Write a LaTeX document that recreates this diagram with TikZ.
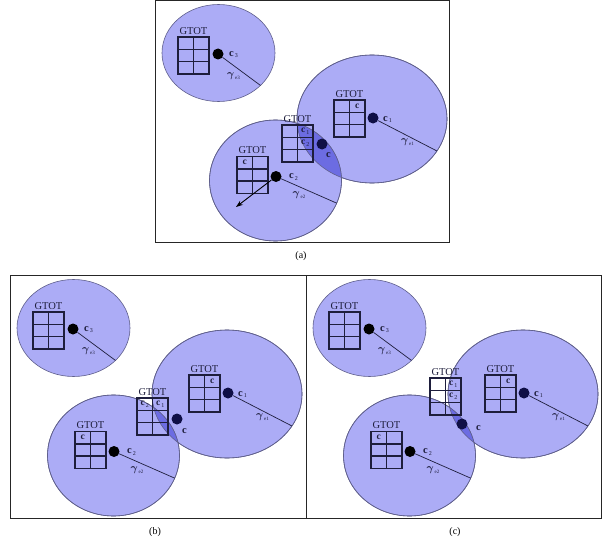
\documentclass[tikz,border=0pt]{standalone}
\usepackage{amsmath}
\usepackage{fontspec}
\setmainfont{Liberation Serif}
\usetikzlibrary{arrows.meta,calc}
\definecolor{cfill}{RGB}{172,172,246}
\definecolor{clens}{RGB}{108,108,226}
\definecolor{cedge}{RGB}{95,95,140}
\definecolor{cgrid}{RGB}{30,30,60}
\definecolor{cnavy}{RGB}{15,15,70}
\tikzset{
  blob/.style={fill=cfill, draw=cedge, line width=0.6pt},
  cellbox/.style={draw=cgrid, line width=1.4pt, minimum width=15.5pt, minimum height=12.3pt, inner sep=0pt, outer sep=0pt},
  gtot/.style={font=\fontsize{10.5}{10.5}\selectfont, inner sep=0pt, text=cgrid},
  cdot/.style={circle, fill=black, minimum size=11pt, inner sep=0pt},
  ndot/.style={circle, fill=cnavy, minimum size=11pt, inner sep=0pt},
  clab/.style={font=\fontsize{10.5}{10.5}\selectfont, inner sep=0pt, anchor=west, text=cgrid},
  glab/.style={font=\fontsize{10.5}{10.5}\selectfont, inner sep=0pt, anchor=west, text=cgrid},
  celltxt/.style={font=\fontsize{9.5}{9.5}\selectfont, inner sep=0pt, text=cgrid},
  radiusline/.style={draw=cgrid, line width=0.7pt},
  panelbox/.style={draw=black!85, line width=1.3pt},
  caption/.style={font=\fontsize{10}{10}\selectfont}
}
\newcommand\csub[1]{\textbf{c}\raisebox{-1.8pt}{\fontsize{6}{6}\selectfont\,#1}}
\newcommand\gsub[1]{$\boldsymbol{\gamma}$\raisebox{-1.8pt}{\fontsize{5}{5}\selectfont\,e#1}}
% name, x, y (top-left of grid)
\newcommand\gtotgrid[3]{%
  \node[gtot] (#1-t) at ({#2+15.5},{#3-6}) {GTOT};
  \foreach \r in {1,2,3}{\foreach \c in {1,2}{%
    \node[cellbox, anchor=north west] (#1-\r\c) at ({#2+(\c-1)*15.5},{#3+(\r-1)*12.33}) {};}}%
}
% prefix, shift x, shift y, circle-2 centre x, extra code
\newcommand\drawpanel[5]{%
\begin{scope}[shift={(#2,#3)}]
  \coordinate (#1-o3) at (63.5,53);
  \coordinate (#1-o1) at (217,119);
  \coordinate (#1-o2) at (#4,180.5);
  \path[blob] (#1-o3) ellipse [x radius=56.5pt, y radius=48.5pt];
  \path[blob] (#1-o1) ellipse [x radius=75pt, y radius=64pt];
  \path[blob] (#1-o2) ellipse [x radius=66pt, y radius=60.5pt];
  \begin{scope}
    \clip (#1-o1) ellipse [x radius=75pt, y radius=64pt];
    \fill[clens] (#1-o2) ellipse [x radius=66pt, y radius=60.5pt];
  \end{scope}
  \draw[cedge, line width=0.6pt] (#1-o1) ellipse [x radius=75pt, y radius=64pt]
        (#1-o2) ellipse [x radius=66pt, y radius=60.5pt];
  % grids
  \gtotgrid{#1-g3}{23}{37}
  \gtotgrid{#1-g1}{179}{100}
  \gtotgrid{#1-g2}{#4-38.5}{156.5}
  \node[celltxt] at (#1-g1-12) {\textbf{c}};
  \node[celltxt] at (#1-g2-11) {\textbf{c}};
  % dots
  \node[cdot] (#1-d3) at (63,54) {};
  \node[ndot] (#1-d1) at (218,118) {};
  \node[cdot] (#1-d2) at ({#4+0.5},176.5) {};
  % radius lines
  \coordinate (#1-e3) at ($(#1-o3)+(-42:56.5pt and 48.5pt)$);
  \coordinate (#1-e1) at ($(#1-o1)+(-30:75pt and 64pt)$);
  \coordinate (#1-e2) at ($(#1-o2)+(-22:66pt and 60.5pt)$);
  \draw[radiusline] (#1-d3) -- (#1-e3);
  \draw[radiusline] (#1-d1) -- (#1-e1);
  \draw[radiusline] (#1-d2) -- (#1-e2);
  % labels
  \node[clab] (#1-l3) at (74,54.5) {\csub{3}};
  \node[clab] (#1-l1) at (228,119.5) {\csub{1}};
  \node[clab] (#1-l2) at ({#4+13.5},177) {\csub{2}};
  \node[glab] (#1-y3) at (72,76) {\gsub{3}};
  \node[glab] (#1-y1) at (246,142) {\gsub{1}};
  \node[glab] (#1-y2) at ({#4+17},195.5) {\gsub{2}};
  #5
\end{scope}}

\begin{document}
\begin{tikzpicture}[x=1pt,y=-1pt]
\useasboundingbox (0,0) rectangle (603,543);
\fill[white] (0,0) rectangle (603,543);

% ---- panel (a)
\drawpanel{a}{155}{0}{120.5}{%
  \gtotgrid{a-gm}{127}{125}
  \node[celltxt] at (a-gm-12) {\csub{1}};
  \node[celltxt] at (a-gm-22) {\csub{2}};
  \node[ndot] (a-dc) at (167,144) {};
  \node[clab] (a-lc) at (171,155) {\textbf{c}};
  \coordinate (a-ar) at (81,207);
  \draw[-{Stealth[length=7pt,width=5pt]}, line width=0.9pt, black] (a-d2) -- (a-ar);
}
\node[panelbox, minimum width=294pt, minimum height=242pt, anchor=north west, inner sep=0pt] (boxa) at (155,0) {};
\node[caption] (capa) at (301,256) {(a)};

% ---- panel (b)
\drawpanel{b}{10}{275}{103.5}{%
  \gtotgrid{b-gm}{127}{123}
  \node[celltxt] at (b-gm-11) {\csub{2}};
  \node[celltxt] at (b-gm-12) {\csub{1}};
  \node[ndot] (b-dc) at (167,144) {};
  \node[clab] (b-lc) at (172,156) {\textbf{c}};
}
% ---- panel (c)
\drawpanel{c}{306}{275}{103.5}{%
  \gtotgrid{c-gm}{124}{103}
  \node[celltxt] at (c-gm-12) {\csub{1}};
  \node[celltxt] at (c-gm-22) {\csub{2}};
  \node[ndot] (c-dc) at (156,149) {};
  \node[clab] (c-lc) at (170,153) {\textbf{c}};
}
\node[panelbox, minimum width=296pt, minimum height=243pt, anchor=north west, inner sep=0pt] (boxb) at (10,275) {};
\node[panelbox, minimum width=295pt, minimum height=243pt, anchor=north west, inner sep=0pt] (boxc) at (306,275) {};
\node[caption] (capb) at (155,532) {(b)};
\node[caption] (capc) at (455,532) {(c)};
\end{tikzpicture}
\end{document}
